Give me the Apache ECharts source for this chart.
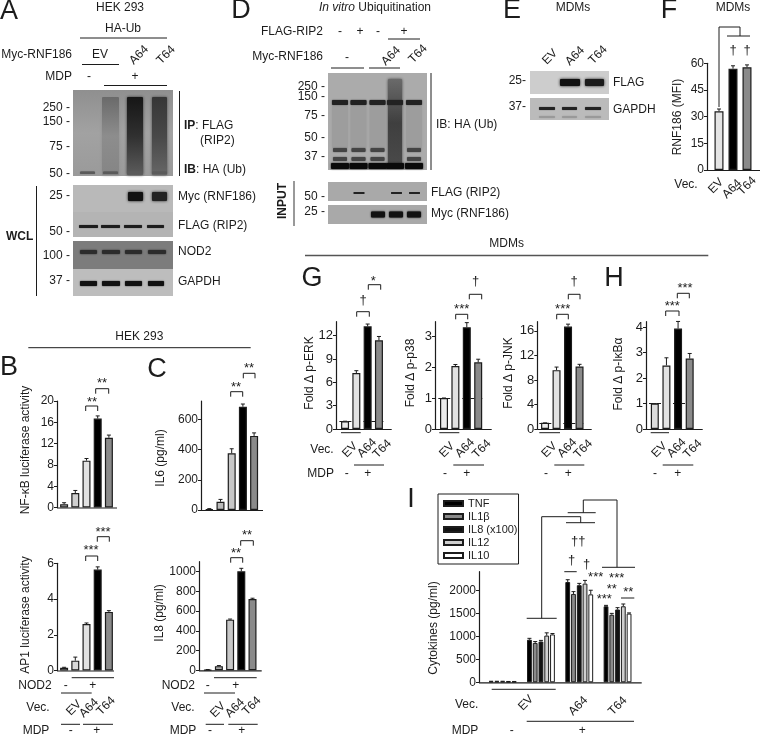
<!DOCTYPE html>
<html><head><meta charset="utf-8">
<style>html,body{margin:0;padding:0;background:#fff}#c{width:761px;height:736px}</style>
<script src="https://cdn.jsdelivr.net/npm/echarts@6/dist/echarts.min.js"></script>
</head><body><div id="c"></div>
<script>
// ---------- data ----------
const catsF = ['EV','A64','T64'];
const mfi = [33,57,57.8];            const mfiErr = [1.3,1.6,1.3];
const catsNod = ['-','+ EV','+ A64','+ T64 a','+ T64'];
const nfkb = [0.6,2.7,8.8,16.7,13.1]; const nfkbErr = [0.3,0.5,0.4,0.5,0.5];
const ap1 = [0.15,0.55,2.6,5.65,3.28]; const ap1Err = [0.03,0.2,0.06,0.15,0.07];
const il6 = [5,55,375,683,490];       const il6Err = [4,15,30,18,20];
const il8 = [5,42,513,1003,722];      const il8Err = [3,6,6,30,8];
const catsFold = ['EV -','EV +','A64','T64'];
const erk = [1,7.2,13.2,11.4];        const erkErr = [0,0.3,0.3,0.5];
const p38 = [1,2.03,3.28,2.15];       const p38Err = [0,0.05,0.15,0.1];
const jnk = [1,9.6,16.7,10.2];        const jnkErr = [0,0.5,0.4,0.35];
const ikb = [1,2.5,3.95,2.77];        const ikbErr = [0,0.3,0.28,0.2];
const catsCyt = ['none','EV','A64','T64'];
const cytNames = ['TNF','IL1β','IL8 (x100)','IL12','IL10'];
const tnf = [20,930,2190,1660];   const tnfErr = [3,30,50,20];
const il1b = [20,860,1930,1475];  const il1bErr = [3,30,50,30];
const il8c = [20,890,2120,1590];  const il8cErr = [3,25,40,40];
const il12 = [15,1020,2155,1660]; const il12Err = [3,60,70,50];
const il10 = [15,1045,1920,1500]; const il10Err = [3,20,90,15];
const ticksF = [0,15,30,45,60];
const ticksNf = [0,4,8,12,16,20];
const ticksAp = [0,2,4,6];
const ticksIl6 = [0,200,400,600];
const ticksIl8 = [0,200,400,600,800,1000];
const ticksErk = [0,3,6,9,12];
const ticksP38 = [0,1,2,3];
const ticksJnk = [0,4,8,12,16];
const ticksIkb = [0,1,2,3,4];
const ticksCyt = [0,500,1000,1500,2000];

// ---------- helpers ----------
const INK = '#1c1c1c', FONT = '"Liberation Sans", Arial, sans-serif';
const G = [];
function T(x,y,s,o={}){
  const el={type:'text',x,y,silent:true,rotation:(o.rot||0)*Math.PI/180,z:10,style:{
    text:s,fill:o.c||INK,font:`${o.i?'italic ':''}${o.b?'bold ':''}${o.s||12}px ${FONT}`,
    align:o.a||'center',verticalAlign:'middle',textAlign:o.a||'center',textVerticalAlign:'middle'}};
  if(o.rich) el.style.rich=o.rich;
  G.push(el);
}
function L(x1,y1,x2,y2,w=1,c=INK){G.push({type:'line',silent:true,z:9,shape:{x1,y1,x2,y2},style:{stroke:c,lineWidth:w}});}
function P(pts,w=1,c=INK){G.push({type:'polyline',silent:true,z:9,shape:{points:pts},style:{stroke:c,lineWidth:w,fill:null}});}
function BR(x1,x2,y,leg=5){P([[x1,y+leg],[x1,y],[x2,y],[x2,y+leg]],1);}
function R(x,y,w,h,fill,blur=0){G.push({type:'rect',silent:true,z:1,shape:{x,y,width:w,height:h,r:blur?1:0},style:{fill,shadowBlur:blur,shadowColor:typeof fill==='string'?fill:fill.colorStops[1].color}});}
function V(a,b,c){const s=c?[[0,a],[0.5,b],[1,c]]:[[0,a],[1,b]];return {type:'linear',x:0,y:0,x2:0,y2:1,colorStops:s.map(q=>({offset:q[0],color:q[1]}))};}
function LETTER(x,y,s){T(x,y,s,{s:27});}
function ROT(x,y,s){T(x,y,s,{rot:45});}
function YL(x,y,s){T(x,y,s,{rot:90});}

const grids=[],xAxes=[],yAxes=[],series=[];
function errSeries(idx,vals,errs,off=0){
  series.push({type:'custom',xAxisIndex:idx,yAxisIndex:idx,z:3,silent:true,clip:false,
    data:vals.map((v,i)=>[i,v,v+errs[i]]),encode:{x:0,y:2},
    renderItem(p,api){
      const a=api.coord([api.value(0),api.value(1)]),b=api.coord([api.value(0),api.value(2)]);
      const x=a[0]+off,st={stroke:INK,lineWidth:1};
      return {type:'group',children:[
        {type:'line',shape:{x1:x,y1:a[1],x2:x,y2:b[1]},style:st},
        {type:'line',shape:{x1:x-2,y1:b[1],x2:x+2,y2:b[1]},style:st}]};
    }});
}
function axes(o){
  const idx=grids.length;
  grids.push({left:o.left,top:o.top,width:o.width,height:o.y0-o.top,containLabel:false});
  xAxes.push({type:'category',gridIndex:idx,data:o.cats,axisLine:{show:false},axisTick:{show:false},axisLabel:{show:false},splitLine:{show:false}});
  yAxes.push({type:'value',gridIndex:idx,min:0,max:o.max,offset:o.left-o.axisX,splitLine:{show:false},
    axisLine:{show:true,onZero:false,lineStyle:{color:INK,width:1.2}},
    axisTick:{show:true,length:3,inside:false,customValues:o.ticks,lineStyle:{color:INK,width:1}},
    axisLabel:{color:INK,fontSize:o.tickSize||12,fontFamily:FONT,margin:3,customValues:o.ticks,formatter:v=>String(v)}});
  L(o.axisX,o.y0+0.5,o.right,o.y0+0.5,1.2);
  return idx;
}
function panel(o){
  const idx=axes(o);
  const s={type:'bar',xAxisIndex:idx,yAxisIndex:idx,barWidth:o.barWidth||8,z:2,silent:true,
    data:o.vals.map((v,i)=>({value:v,itemStyle:{color:o.colors[i],borderColor:INK,borderWidth:1.2}}))};
  if(o.dashed) s.markLine={z:1,silent:true,symbol:'none',label:{show:false},
    lineStyle:{color:INK,type:[4,4],width:1},data:[{yAxis:o.dashed}]};
  series.push(s);
  errSeries(idx,o.vals,o.errs);
}

// ---------- bar panels ----------
const C5a=['#cfcfcf','#cfcfcf','#e2e2e2','#000','#8a8a8a'];
panel({axisX:57,y0:507.5,top:401,max:20,left:58.5,width:56,right:117,cats:catsNod,vals:nfkb,errs:nfkbErr,colors:C5a,ticks:ticksNf});
panel({axisX:57,y0:670.5,top:563.3,max:6,left:58.5,width:56,right:114,cats:catsNod,vals:ap1,errs:ap1Err,colors:['#d8d8d8','#d8d8d8','#e2e2e2','#000','#8a8a8a'],ticks:ticksAp});
panel({axisX:201,y0:510,top:401,max:721,left:203.7,width:56,right:263,cats:catsNod,vals:il6,errs:il6Err,colors:['#444','#bbb','#c8c8c8','#000','#8a8a8a'],ticks:ticksIl6});
panel({axisX:199,y0:670.3,top:561.7,max:1100,left:202.1,width:56,right:261.7,cats:catsNod,vals:il8,errs:il8Err,colors:['#555','#aaa','#c8c8c8','#000','#8a8a8a'],ticks:ticksIl8});
panel({axisX:707,y0:170,top:63.3,max:60,left:712,width:42,right:760,barWidth:9,cats:catsF,vals:mfi,errs:mfiErr,colors:['#e4e4e4','#000','#8a8a8a'],ticks:ticksF});
const C4=['#ececec','#e2e2e2','#000','#8a8a8a'];
panel({axisX:336,y0:429,top:321.7,max:13.8,left:339.4,width:45.2,right:391.7,tickSize:13,cats:catsFold,vals:erk,errs:erkErr,colors:C4,ticks:ticksErk,dashed:1});
panel({axisX:435,y0:429,top:321.7,max:3.46,left:438.3,width:45.6,right:491.7,tickSize:13,cats:catsFold,vals:p38,errs:p38Err,colors:C4,ticks:ticksP38,dashed:1});
panel({axisX:537.3,y0:429,top:321.7,max:17.5,left:539.3,width:46,right:591.7,tickSize:13,cats:catsFold,vals:jnk,errs:jnkErr,colors:C4,ticks:ticksJnk,dashed:1});
panel({axisX:646,y0:429,top:321.7,max:4.22,left:649,width:46.5,right:702.7,tickSize:13,cats:catsFold,vals:ikb,errs:ikbErr,colors:['#dcdcdc','#e2e2e2','#000','#8a8a8a'],ticks:ticksIkb,dashed:1});

// panel I
const cytIdx=axes({axisX:479,y0:682.3,top:571.7,max:2415,left:483.5,width:153.2,right:641.7,cats:catsCyt,ticks:ticksCyt});
const cytVals=[tnf,il1b,il8c,il12,il10], cytErrs=[tnfErr,il1bErr,il8cErr,il12Err,il10Err];
const cytColors=['#000','#8a8a8a','#111','#cfcfcf','#fff'];
cytNames.forEach((n,k)=>{
  series.push({type:'bar',name:n,xAxisIndex:cytIdx,yAxisIndex:cytIdx,barWidth:4.8,barGap:'20%',silent:true,z:2,
    itemStyle:{color:cytColors[k],borderColor:INK,borderWidth:1},data:cytVals[k]});
});
cytNames.forEach((n,k)=>errSeries(cytIdx,cytVals[k],cytErrs[k],(k-2)*5.76));

// ---------- blots (decorative pictures) ----------
// A
R(73,90,100,86,V('#8f8f8f','#a2a2a2','#9a9a9a'));
R(102,97,17,78,V('#6a6a6a','#8d8d8d','#858585'),3);
R(127,97,16,78,V('#161616','#303030','#5c5c5c'),3);
R(152,97,15,78,V('#363636','#484848','#666'),3);
[80,103,127,152].forEach(x=>R(x,171.5,15,2.5,'#5a5a5a',1));
R(73,185,100,27,'#b9b9b9');R(128,192,15,9,'#111',3);R(152,192,15,9,'#222',3);
R(73,212,100,25,'#b4b4b4');[[79,19],[101,19],[124,18],[147,17]].forEach(b=>R(b[0],225,b[1],3,'#1d1d1d',1));
R(73,241,100,28,'#7c7c7c');[[80,17],[102,18],[125,17],[148,18]].forEach(b=>R(b[0],250,b[1],4,'#2c2c2c',2));
R(73,269,100,27,'#bdbdbd');[[80,17],[102,18],[125,17],[148,16]].forEach(b=>R(b[0],281,b[1],5,'#111',1.5));
// D
R(328,73,99,97,'#ababab');
const laneD=[331,349.5,368.5,386,405];
[331,349.5,368.5,405].forEach(x=>R(x+1,106,16,42,'#9d9d9d',3));
R(388,79,14,88,V('#6a6a6a','#3f3f3f','#4a4a4a'),3);
laneD.forEach(x=>{R(x+1,100,16,5,'#222',1.5);R(x,163,18,6,'#0a0a0a',2);});
[331,349.5,368.5,405].forEach(x=>{R(x+2,148,14,4,'#444',1.5);R(x+2,157,14,4,'#444',1.5);});
R(328,182,99,19,'#a9a9a9');[349.5,387,405].forEach(x=>R(x+4,192,11,2,'#222',.5));
R(328,205,99,19,'#a9a9a9');[369,387,405].forEach(x=>R(x+2,211.5,14,6,'#111',2));
// E
R(530,71,79,23,'#cdcdcd');R(560,79,20,7,'#111',3);R(585,79,19,7,'#1c1c1c',3);
R(530,98,79,22,'#bbb');[[539,16],[562,15],[585,16]].forEach(b=>{R(b[0],107,b[1],3,'#222',1);R(b[0],116,b[1],2,'#999',1.5);});

// ---------- text & annotation ----------
// A
LETTER(9,12,'A');T(120,8,'HEK 293');T(123,29,'HA-Ub');L(80,38,167,38);
T(72,55,'Myc-RNF186',{a:'right'});T(100,55,'EV');L(82,64.5,119,64.5);ROT(139,55,'A64');ROT(166,55,'T64');
T(72,77,'MDP',{a:'right'});T(89,77,'-');T(135,77,'+');L(104,85.5,167,85.5);
[['250 -',108],['150 -',122],['75 -',147],['50 -',174],['25 -',196],['50 -',232],['100 -',256],['37 -',281]].forEach(q=>T(70,q[1],q[0],{a:'right'}));
L(179.5,91,179.5,176);
const boldRich={b:{font:`bold 12px ${FONT}`,fill:INK},n:{font:`12px ${FONT}`,fill:INK},i:{font:`italic 12px ${FONT}`,fill:INK}};
T(184,126,'{b|IP}{n|: FLAG}',{a:'left',rich:boldRich});T(200,141,'(RIP2)',{a:'left'});T(184,170,'{b|IB}{n|: HA (Ub)}',{a:'left',rich:boldRich});
T(178,197,'Myc (RNF186)',{a:'left'});T(178,226,'FLAG (RIP2)',{a:'left'});T(178,252,'NOD2',{a:'left'});T(178,282,'GAPDH',{a:'left'});
T(6,237,'WCL',{a:'left',b:1});L(36.5,186,36.5,296);
// D
LETTER(241,11,'D');T(375,8,'{i|In vitro}{n| Ubiquitination}',{rich:boldRich});
T(323,32,'FLAG-RIP2',{a:'right'});T(340,32,'-');T(360,32,'+');T(378,32,'-');T(404,32,'+');L(388,39,420,39);
T(323,57,'Myc-RNF186',{a:'right'});T(347,58,'-');L(331,68,364,68);L(369,68,400,68);ROT(391,56,'A64');ROT(418,54,'T64');
[['250 -',87],['150 -',97],['75 -',116],['50 -',138],['37 -',157],['50 -',197],['25 -',212]].forEach(q=>T(325,q[1],q[0],{a:'right'}));
L(431,73,431,170);T(436,125,'IB: HA (Ub)',{a:'left'});T(431,193,'FLAG (RIP2)',{a:'left'});T(431,214,'Myc (RNF186)',{a:'left'});
T(283,201,'INPUT',{b:1,rot:90});L(294,181,294,226,1.2,'#555');
// E
LETTER(512,11,'E');T(573,8,'MDMs');ROT(550,57,'EV');ROT(575,56,'A64');ROT(598,55,'T64');
T(526,81,'25-',{a:'right'});T(526,107,'37-',{a:'right'});T(613,83,'FLAG',{a:'left'});T(613,110,'GAPDH',{a:'left'});
// F
LETTER(669,11,'F');T(733,8,'MDMs');YL(678,117,'RNF186 (MFI)');T(686,185,'Vec.');
ROT(716,186,'EV');ROT(732,189,'A64');ROT(747,186,'T64');
P([[719,107],[719,27],[740,27],[740,36]]);L(727,36,750,36);T(733,50,'†',{s:13});T(747,50,'†',{s:13});
// B / C
T(139.3,337,'HEK 293');L(28.3,347.7,250.7,347.7);
LETTER(9,368,'B');LETTER(157,370,'C');
YL(26,450,'NF-κB luciferase activity');YL(26,615,'AP1 luciferase activity');YL(160.7,458,'IL6 (pg/ml)');YL(160,613,'IL8 (pg/ml)');
function star(x,y,s){T(x,y+2,s,{s:13});}
BR(85.7,97.7,406);star(92,400,'**');BR(95.7,108.7,388.7);star(102,381.7,'**');
BR(85.7,97.7,556);star(91,548.7,'***');BR(97.3,109.3,536.7);star(103,530,'***');
BR(230.7,242.7,391.7);star(236,385,'**');BR(243.3,255,373.3);star(249,366.7,'**');
BR(230.7,242.7,557.7);star(236,551.7,'**');BR(240.7,253.3,540.7);star(247,533,'**');
L(71.7,677.7,114,677.7);T(51.7,685.7,'NOD2',{a:'right'});T(65.7,685.7,'-');T(92.7,685.7,'+');L(61,693,91.7,693);
T(38,708,'Vec.');ROT(74,708,'EV');ROT(89,708,'A64');ROT(106,706,'T64');
L(61,724.3,80,724.3);L(83,724.3,113,724.3);T(36,730.5,'MDP');T(70.7,730.5,'-');T(96.7,730.5,'+');
L(214,677.7,256.7,677.7);T(195,685.7,'NOD2',{a:'right'});T(207.7,685.7,'-');T(235.7,685.7,'+');L(204,693,235,693);
T(183,708,'Vec.');ROT(218,710,'EV');ROT(235,708,'A64');ROT(251.7,706,'T64');
L(205.7,724.3,224,724.3);L(228.3,724.3,257.7,724.3);T(183,730.5,'MDP');T(210,730.5,'-');T(241.7,730.5,'+');
// MDMs header
T(506.7,244,'MDMs');L(305,255.5,708.3,255.5,1.5,'#555');
// G
LETTER(312,279,'G');LETTER(614,279,'H');
YL(310,373,'Fold Δ p-ERK');YL(410.7,373,'Fold Δ p-p38');YL(509,373,'Fold Δ p-JNK');YL(619,374,'Fold Δ p-IκBα');
BR(356.7,369.3,311.7);T(363,300,'†',{s:13});BR(368.3,380.7,284.7);star(373.3,279,'*');
BR(455.7,467.7,314.3);star(461.7,307,'***');BR(469.3,481.7,294.3);T(475.7,281.7,'†',{s:13});
BR(556.7,568.3,314.3);star(562.7,307,'***');BR(568.3,580,294.3);T(574,281.7,'†',{s:13});
BR(665.7,679,311);star(672.3,304.3,'***');BR(677.3,689.3,293.3);star(685,286.7,'***');
T(322,450,'Vec.');T(320.7,474,'MDP');
[[350,367,382.3,341,360.7,354,384,346.7,367.7],[447,465,481.7,439.3,459.3,453.3,484,445,466.7],[549.3,567.3,583.3,539.3,560,554.3,584.3,546,568.3],[659.3,676.7,692.7,650.7,669,662.7,693.3,655,677.7]].forEach(r=>{
  ROT(r[0],450,'EV');ROT(r[1],448,'A64');ROT(r[2],449,'T64');
  L(r[3],432.7,r[4],432.7);L(r[5],465,r[6],465);T(r[7],474,'-');T(r[8],474,'+');
});
// I
T(411,500,'I',{s:27});YL(433.3,628,'Cytokines (pg/ml)');
L(526.7,618.3,556.7,618.3);P([[541.7,618.3],[541.7,516.7],[580.7,516.7],[580.7,522.7]]);L(566,522.7,595,522.7);
L(567.7,512.7,595.7,512.7);P([[583.3,512.7],[583.3,500],[617,500],[617,567.3]]);L(602,567.3,635,567.3);
T(578.3,541,'††',{s:13});T(571.7,560,'†',{s:13});L(564.3,571.7,576.7,571.7);T(586.7,564,'†',{s:13});
star(595.7,575.7,'***');star(616.7,576.7,'***');star(611.7,587.3,'**');star(604.3,597.3,'***');star(628.3,590,'**');L(621,598,634.3,598);
L(491.7,689.3,555.7,689.3);T(466.7,705,'Vec.');ROT(526,703,'EV');ROT(578.3,706,'A64');ROT(617.7,706,'T64');
L(526.7,721.3,634,721.3);T(465,730.5,'MDP');T(511.7,730.5,'-');T(582.3,730.5,'+');

// ---------- chart ----------
const chart=echarts.init(document.getElementById('c'),null,{renderer:'canvas'});
chart.setOption({
  animation:false,backgroundColor:'#fff',textStyle:{fontFamily:FONT},
  legend:{show:true,orient:'vertical',left:438,top:494,data:cytNames,selectedMode:false,icon:'rect',
    itemWidth:19,itemHeight:5,itemGap:0,padding:[3,1,2,5],borderColor:INK,borderWidth:1,
    textStyle:{color:INK,fontSize:11,fontFamily:FONT,lineHeight:13,height:13}},
  grid:grids,xAxis:xAxes,yAxis:yAxes,series,graphic:G
});
</script></body></html>
